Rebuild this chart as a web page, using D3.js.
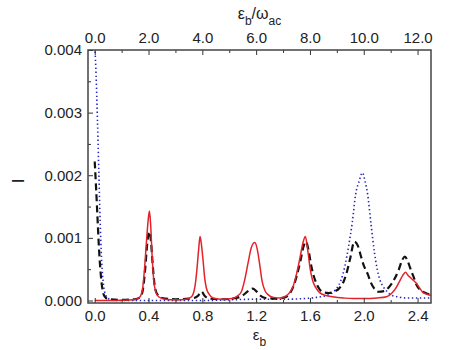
<!DOCTYPE html>
<html lang="en">
<head>
<meta charset="UTF-8">
<title>I vs eps_b</title>
<style>
    body { margin: 0; background: #fff; }
    svg text { font-family: "Liberation Sans", Arial, sans-serif; fill: #222; }
</style>
</head>
<body>
<div id="chart"></div>
<script src="https://d3js.org/d3.v7.min.js"></script>
<script>
    const w = 457;
    const h = 350;
    const margin = {top: 50, right: 26, bottom: 47, left: 88};
    const omegaAc = 0.2;

    // tick values
    const bottomTicks = [0.0, 0.4, 0.8, 1.2, 1.6, 2.0, 2.4];
    const topTicks = [0, 2, 4, 6, 8, 10, 12];
    const yTicks = [0.000, 0.001, 0.002, 0.003, 0.004];

    // series: [eps_b, I]
    const solidRed = [
        [0,0],[0.1,0],[0.2,0.000003],[0.28,0.00001],[0.32,0.00003],[0.34,0.00007],[0.355,0.00017],
        [0.37,0.0005],[0.385,0.00095],[0.398,0.0013],[0.407,0.00143],[0.416,0.0012],[0.427,0.0007],
        [0.44,0.0003],[0.455,0.00013],[0.475,0.00006],[0.52,0.00002],[0.6,0.00001],[0.68,0.00002],
        [0.72,0.00006],[0.745,0.00022],[0.76,0.0005],[0.772,0.0008],[0.783,0.00102],[0.793,0.0009],
        [0.805,0.00065],[0.818,0.00035],[0.83,0.0002],[0.85,0.0001],[0.88,0.00004],[0.95,0.00002],
        [1.02,0.00003],[1.06,0.00007],[1.09,0.00014],[1.115,0.00033],[1.14,0.0006],[1.165,0.00085],
        [1.19,0.000925],[1.21,0.0008],[1.228,0.00055],[1.245,0.0003],[1.265,0.00016],[1.29,0.00009],
        [1.33,0.00005],[1.376,0.00004],[1.42,0.00007],[1.45,0.00013],[1.474,0.00022],[1.5,0.00042],
        [1.524,0.00066],[1.548,0.00092],[1.566,0.00102],[1.585,0.00078],[1.602,0.0005],[1.62,0.00032],
        [1.645,0.0002],[1.67,0.00013],[1.72,0.00008],[1.77,0.00006],[1.85,0.00004],[1.92,0.00003],
        [2.0,0.00003],[2.1,0.00004],[2.17,0.00006],[2.21,0.00012],[2.24,0.0002],[2.26,0.00028],
        [2.29,0.0004],[2.31,0.00045],[2.33,0.0004],[2.35,0.00036],[2.37,0.00032],[2.39,0.00028],
        [2.415,0.0002],[2.44,0.00013],[2.47,0.0001],[2.5,0.00008]
    ];

    const dashBlack = [
        [0,0.00222],[0.01,0.0018],[0.02,0.00135],[0.03,0.0009],[0.04,0.00055],[0.05,0.0003],
        [0.06,0.00015],[0.075,0.00006],[0.1,0.00002],[0.2,0.00001],[0.3,0.00002],[0.34,0.00006],
        [0.36,0.0002],[0.375,0.0005],[0.39,0.0009],[0.405,0.0011],[0.418,0.00095],[0.43,0.0006],
        [0.445,0.00025],[0.465,0.0001],[0.5,0.00004],[0.6,0.00002],[0.7,0.00003],[0.74,0.00004],
        [0.765,0.00007],[0.795,0.00014],[0.815,0.00008],[0.85,0.00003],[0.95,0.00002],[1.05,0.00004],
        [1.1,0.00008],[1.14,0.00015],[1.175,0.00019],[1.2,0.00015],[1.23,0.00008],[1.27,0.00004],
        [1.35,0.00003],[1.41,0.00005],[1.45,0.00011],[1.48,0.00024],[1.505,0.00042],[1.53,0.00064],
        [1.552,0.00086],[1.57,0.00094],[1.59,0.0008],[1.61,0.00055],[1.63,0.00038],[1.66,0.00022],
        [1.69,0.00014],[1.74,0.00012],[1.78,0.00014],[1.82,0.0002],[1.85,0.0003],[1.87,0.00042],
        [1.9,0.00068],[1.93,0.00094],[1.955,0.00088],[1.98,0.0007],[2.0,0.00056],[2.03,0.00042],
        [2.05,0.0003],[2.075,0.0002],[2.11,0.00014],[2.15,0.00015],[2.19,0.00022],[2.23,0.00035],
        [2.26,0.00049],[2.285,0.00064],[2.305,0.0007],[2.325,0.00064],[2.345,0.00052],[2.37,0.00038],
        [2.395,0.00024],[2.43,0.00015],[2.46,0.00012],[2.5,0.00009]
    ];

    const dotBlue = [
        [0,0.0041],[0.01,0.0036],[0.02,0.0029],[0.03,0.0021],[0.04,0.0013],[0.05,0.0007],
        [0.06,0.00036],[0.07,0.00018],[0.085,0.00007],[0.11,0.00002],[0.15,0],[0.4,0],[0.8,0],
        [1.0,0.00001],[1.2,0.00002],[1.4,0.00002],[1.55,0.00003],[1.65,0.00005],[1.72,0.00008],
        [1.77,0.00013],[1.8,0.0002],[1.83,0.00032],[1.86,0.00055],[1.89,0.0009],[1.915,0.00125],
        [1.94,0.0017],[1.965,0.0019],[1.99,0.00204],[2.01,0.0019],[2.03,0.00168],[2.055,0.0012],
        [2.08,0.00076],[2.1,0.0005],[2.12,0.00033],[2.145,0.00022],[2.17,0.00015],[2.2,0.00009],
        [2.25,0.00006],[2.31,0.00004],[2.4,0.00004],[2.5,0.00004]
    ];

    const xScale = d3.scaleLinear()
        .domain([-0.05, 2.5])
        .range([margin.left, w - margin.right]);
    const xTopScale = d3.scaleLinear()
        .domain(xScale.domain().map(d => d / omegaAc))
        .range(xScale.range());
    const yScale = d3.scaleLinear()
        .domain([-0.00004, 0.004])
        .range([h - margin.bottom, margin.top]);

    const svg = d3.select('#chart')
        .append('svg')
        .attr('width', w)
        .attr('height', h);

    svg.append('defs').append('clipPath')
        .attr('id', 'plotClip')
        .append('rect')
        .attr('x', margin.left)
        .attr('y', margin.top)
        .attr('width', w - margin.left - margin.right)
        .attr('height', h - margin.top - margin.bottom);

    const line = d3.line()
        .x(d => xScale(d[0]))
        .y(d => yScale(d[1]))
        .curve(d3.curveMonotoneX);

    const plot = svg.append('g').attr('clip-path', 'url(#plotClip)');

    plot.append('path')
        .datum(dotBlue)
        .attr('d', line)
        .attr('fill', 'none')
        .attr('stroke', '#2424c4')
        .attr('stroke-width', 1.6)
        .attr('stroke-dasharray', '1.4,2.6');

    plot.append('path')
        .datum(dashBlack)
        .attr('d', line)
        .attr('fill', 'none')
        .attr('stroke', '#111')
        .attr('stroke-width', 2.2)
        .attr('stroke-dasharray', '7,4');

    plot.append('path')
        .datum(solidRed)
        .attr('d', line)
        .attr('fill', 'none')
        .attr('stroke', '#e3222a')
        .attr('stroke-width', 1.5);

    // axes, ticks pointing inward
    const fmt = d3.format('.1f');
    const xAxis = d3.axisBottom(xScale)
        .tickValues(d3.range(0, 2.41, 0.2))
        .tickSizeInner(-5).tickSizeOuter(0)
        .tickFormat(d => bottomTicks.some(t => Math.abs(t - d) < 1e-6) ? fmt(d) : '');
    const xTopAxis = d3.axisTop(xTopScale)
        .tickValues(d3.range(0, 12.1, 1))
        .tickSizeInner(-5).tickSizeOuter(0)
        .tickFormat(d => topTicks.includes(Math.round(d)) && d % 2 === 0 ? fmt(d) : '');
    const yAxis = d3.axisLeft(yScale)
        .tickValues(d3.range(0, 0.00401, 0.0005))
        .tickSizeInner(-5).tickSizeOuter(0)
        .tickFormat(d => yTicks.some(t => Math.abs(t - d) < 1e-9) ? d3.format('.3f')(d) : '');

    const gx = svg.append('g')
        .attr('transform', `translate(0,${h - margin.bottom})`)
        .call(xAxis);
    const gxt = svg.append('g')
        .attr('transform', `translate(0,${margin.top})`)
        .call(xTopAxis);
    const gy = svg.append('g')
        .attr('transform', `translate(${margin.left},0)`)
        .call(yAxis);

    [gx, gxt, gy].forEach(g => {
        g.select('.domain').remove();
        g.selectAll('.tick line').attr('stroke', '#333');
        g.selectAll('.tick text').attr('font-size', 15).attr('fill', '#222');
    });
    // minor ticks shorter
    gx.selectAll('.tick').filter((d, i) => i % 2 === 1).select('line').attr('y2', -3);
    gxt.selectAll('.tick').filter((d, i) => i % 2 === 1).select('line').attr('y2', 3);
    gy.selectAll('.tick').filter((d, i) => i % 2 === 1).select('line').attr('x2', 3);

    gx.selectAll('.tick text').attr('y', 7);
    gxt.selectAll('.tick text').attr('y', -7);
    gy.selectAll('.tick text').attr('x', -6);

    // frame
    svg.append('rect')
        .attr('x', margin.left)
        .attr('y', margin.top)
        .attr('width', w - margin.left - margin.right)
        .attr('height', h - margin.top - margin.bottom)
        .attr('fill', 'none')
        .attr('stroke', '#444')
        .attr('stroke-width', 1.5);

    // axis titles
    const cx = (margin.left + w - margin.right) / 2;
    const topTitle = svg.append('text')
        .attr('x', cx)
        .attr('y', 19)
        .attr('text-anchor', 'middle')
        .attr('font-size', 16);
    topTitle.append('tspan').text('ε');
    topTitle.append('tspan').attr('dy', 6).attr('font-size', 12).text('b');
    topTitle.append('tspan').attr('dy', -6).text('/ω');
    topTitle.append('tspan').attr('dy', 6).attr('font-size', 12).text('ac');

    const botTitle = svg.append('text')
        .attr('x', cx)
        .attr('y', 340)
        .attr('text-anchor', 'middle')
        .attr('font-size', 15);
    botTitle.append('tspan').text('ε');
    botTitle.append('tspan').attr('dy', 6).attr('font-size', 12).text('b');

    svg.append('text')
        .attr('transform', 'translate(24,181) rotate(-90)')
        .attr('text-anchor', 'middle')
        .attr('font-size', 17)
        .text('I');
</script>
</body>
</html>
